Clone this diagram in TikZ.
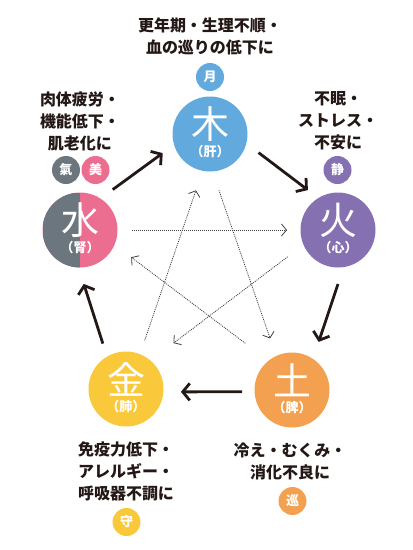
\documentclass[tikz,border=0pt]{standalone}
\usepackage{fontspec}
\setmainfont{Noto Sans CJK JP}
\usetikzlibrary{arrows.meta}
\definecolor{ink}{HTML}{231815}
\definecolor{mokublue}{HTML}{62A9DD}
\definecolor{kapurple}{HTML}{8571B2}
\definecolor{doorange}{HTML}{F3A151}
\definecolor{konyellow}{HTML}{F9C93B}
\definecolor{suigray}{HTML}{6B767E}
\definecolor{suipink}{HTML}{EB6E91}
\tikzset{elem/.style = {circle, inner sep=0pt, minimum size=75pt},
         kanji/.style = {text=white, inner sep=0pt, font=\fontsize{38}{38}\selectfont},
         organ/.style = {text=white, inner sep=0pt, font=\fontsize{13}{13}\selectfont\bfseries},
         badge/.style = {circle, inner sep=0pt, minimum size=28pt, text=white, font=\fontsize{13}{13}\selectfont\bfseries},
         note/.style = {align=center, text=ink, inner sep=0pt, font=\fontsize{16}{22}\selectfont\bfseries},
         flow/.style = {-{Straight Barb[length=7pt,width=17pt]}, line width=2.8pt, draw=ink},
         ctrl/.style = {-{Straight Barb[length=5pt,width=12pt]}, line width=0.8pt, draw=black!75, dash pattern=on 1pt off 1pt}}

\begin{document}
\begin{tikzpicture}[x=1pt,y=-1pt]
    \useasboundingbox (0,0) rectangle (413,550);
    % five elements
    \node[elem, fill=mokublue](moku)at(210,134){};
    \node[elem, fill=kapurple](ka)at(338,230){};
    \node[elem, fill=doorange](do)at(292,390){};
    \node[elem, fill=konyellow](kon)at(126,389){};
    \node[elem, fill=suipink, path picture={\fill[suigray](path picture bounding box.north west) rectangle (path picture bounding box.south);}](sui)at(80,230){};
    \node[kanji](moku-k)at([yshift=10pt]moku.center){木};
    \node[organ](moku-o)at([yshift=-18pt]moku.center){（肝）};
    \node[kanji](ka-k)at([yshift=10pt]ka.center){火};
    \node[organ](ka-o)at([yshift=-18pt]ka.center){（心）};
    \node[kanji](do-k)at([yshift=10pt]do.center){土};
    \node[organ](do-o)at([yshift=-18pt]do.center){（脾）};
    \node[kanji](kon-k)at([yshift=10pt]kon.center){金};
    \node[organ](kon-o)at([yshift=-18pt]kon.center){（肺）};
    \node[kanji](sui-k)at([yshift=10pt]sui.center){水};
    \node[organ](sui-o)at([yshift=-18pt]sui.center){（腎）};
    % notes and badges
    \node[note](moku-n)at(210,36){更年期・生理不順・\\血の巡りの低下に};
    \node[note](ka-n)at(338,121){不眠・\\ストレス・\\不安に};
    \node[note](do-n)at(290,461){冷え・むくみ・\\消化不良に};
    \node[note](kon-n)at(126,471){免疫力低下・\\アレルギー・\\呼吸器不調に};
    \node[note](sui-n)at(80,121){肉体疲労・\\機能低下・\\肌老化に};
    \node[badge, fill=mokublue](tsuki)at(210,77){月};
    \node[badge, fill=kapurple](sei)at(337.5,170){静};
    \node[badge, fill=doorange](meguru)at(292.5,501){巡};
    \node[badge, fill=konyellow](mamoru)at(126.5,522){守};
    \node[badge, fill=suigray](ki)at(66,170){氣};
    \node[badge, fill=suipink](bi)at(95.5,170){美};
    % generating cycle
    \draw[flow]([shift={(51:52pt)}]sui.center)--([shift={(202:51pt)}]moku.center);
    \draw[flow]([shift={(-21:52pt)}]moku.center)--([shift={(127:50pt)}]ka.center);
    \draw[flow]([shift={(-90:54pt)}]ka.center)--([shift={(61:55pt)}]do.center);
    \draw[flow]([shift={(182:50pt)}]do.center)--([shift={(-3:55pt)}]kon.center);
    \draw[flow]([shift={(117:51pt)}]kon.center)--([shift={(-86:54pt)}]sui.center);
    % controlling cycle
    \draw[ctrl]([shift={(0:52pt)}]sui.center)--([shift={(180:51pt)}]ka.center);
    \draw[ctrl]([shift={(69:52pt)}]kon.center)--([shift={(256:58pt)}]moku.center);
    \draw[ctrl]([shift={(-81:57pt)}]moku.center)--([shift={(113:56pt)}]do.center);
    \draw[ctrl]([shift={(208:57pt)}]ka.center)--([shift={(44:66pt)}]kon.center);
    \draw[ctrl]([shift={(135:66pt)}]do.center)--([shift={(-28:58pt)}]sui.center);
\end{tikzpicture}
\end{document}
